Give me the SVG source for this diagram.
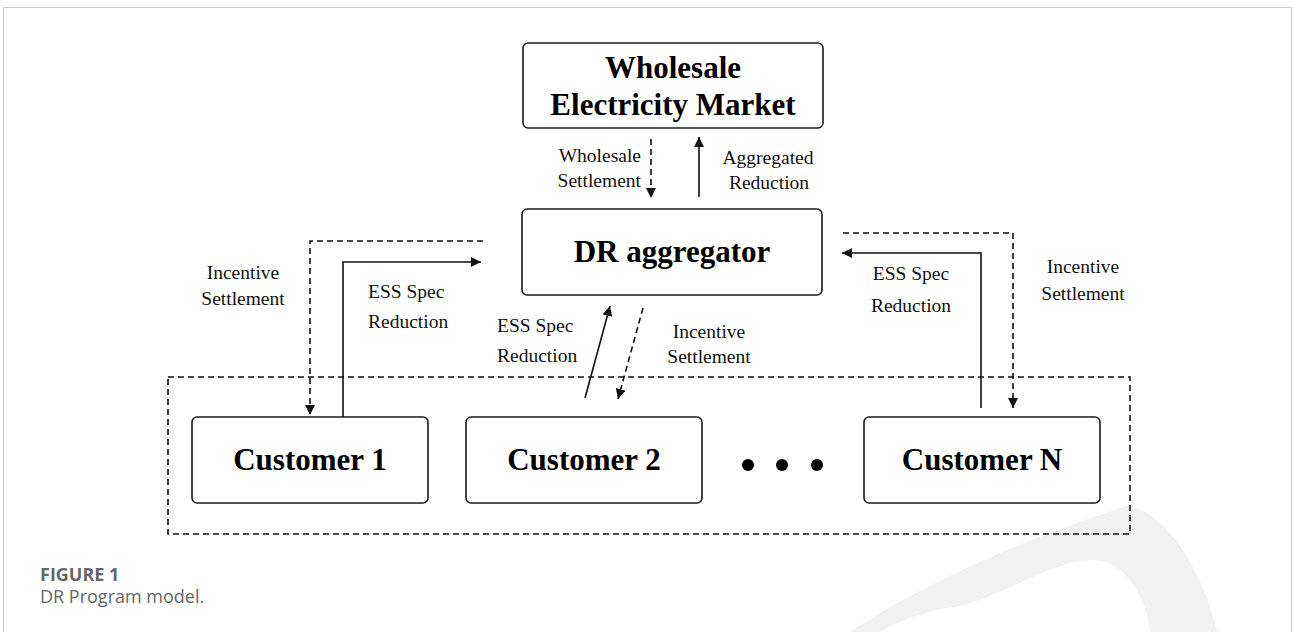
<svg xmlns="http://www.w3.org/2000/svg" width="1293" height="632" viewBox="0 0 1293 632">
  <style>
    .box { fill: #ffffff; stroke: #1a1a1a; stroke-width: 1.6; }
    .title { font-family: "Liberation Serif", "Times New Roman", serif; font-weight: bold; font-size: 31px; fill: #000; text-anchor: middle; }
    .lbl { font-family: "Liberation Serif", "Times New Roman", serif; font-size: 19.5px; fill: #111; }
    .solid { fill: none; stroke: #111; stroke-width: 1.6; }
    .dash { fill: none; stroke: #111; stroke-width: 1.6; stroke-dasharray: 6 4; }
    .cap { font-family: "Open Sans", "Liberation Sans", sans-serif; fill: #666; }
  </style>
  <defs>
    <marker id="arr" markerUnits="userSpaceOnUse" markerWidth="12" markerHeight="10" refX="10" refY="5" orient="auto">
      <path d="M0,0 L10,5 L0,10 Z" fill="#111"/>
    </marker>
  </defs>

  <rect x="0" y="0" width="1293" height="632" fill="#ffffff"/>
  <!-- watermark -->
  <path d="M 850,632 C 920,585 1020,540 1130,505 C 1175,520 1205,580 1217,632 L 1150,632 C 1148,600 1125,560 1093,560 C 1050,560 1000,600 953,607 C 930,610 900,620 880,632 Z" fill="#f1f1f1"/>
  <!-- frame -->
  <path d="M 3.5,632 L 3.5,7.5 L 1291.5,7.5 L 1291.5,632" fill="none" stroke="#cccccc" stroke-width="1.2"/>

  <!-- customer group -->
  <rect id="customer-group" x="168" y="377" width="962" height="157" class="dash"/>

  <g id="wholesale-market">
    <rect x="523" y="43" width="300" height="85" rx="5" class="box"/>
    <text x="673" y="78" class="title">Wholesale</text>
    <text x="673" y="115" class="title">Electricity Market</text>
  </g>

  <g id="dr-aggregator">
    <rect x="522" y="209" width="300" height="86" rx="5" class="box"/>
    <text x="672" y="262" class="title">DR aggregator</text>
  </g>

  <g id="customer-1">
    <rect x="192" y="417" width="236" height="86" rx="5" class="box"/>
    <text x="310" y="470" class="title">Customer 1</text>
  </g>
  <g id="customer-2">
    <rect x="466" y="417" width="236" height="86" rx="5" class="box"/>
    <text x="584" y="470" class="title">Customer 2</text>
  </g>
  <g id="customer-n">
    <rect x="864" y="417" width="236" height="86" rx="5" class="box"/>
    <text x="982" y="470" class="title">Customer N</text>
  </g>

  <g id="ellipsis" fill="#000">
    <circle cx="748" cy="465" r="6"/>
    <circle cx="782" cy="465" r="6"/>
    <circle cx="817" cy="465" r="6"/>
  </g>

  <g id="connectors">
    <line x1="651" y1="139" x2="651" y2="198" class="dash" marker-end="url(#arr)"/>
    <line x1="699" y1="197" x2="699" y2="137" class="solid" marker-end="url(#arr)"/>
    <polyline points="483,241 310,241 310,415" class="dash" marker-end="url(#arr)"/>
    <polyline points="343,417 343,262 481,262" class="solid" marker-end="url(#arr)"/>
    <line x1="585" y1="398" x2="610" y2="306" class="solid" marker-end="url(#arr)"/>
    <line x1="643" y1="308" x2="618" y2="399" class="dash" marker-end="url(#arr)"/>
    <polyline points="843,233 1013,233 1013,408" class="dash" marker-end="url(#arr)"/>
    <polyline points="981,408 981,253 842,253" class="solid" marker-end="url(#arr)"/>
  </g>

  <g id="labels">
    <text x="641" y="162" class="lbl" text-anchor="end">Wholesale</text>
    <text x="641" y="187" class="lbl" text-anchor="end">Settlement</text>
    <text x="768" y="164" class="lbl" text-anchor="middle">Aggregated</text>
    <text x="769" y="189" class="lbl" text-anchor="middle">Reduction</text>

    <text x="243" y="279" class="lbl" text-anchor="middle">Incentive</text>
    <text x="243" y="305" class="lbl" text-anchor="middle">Settlement</text>
    <text x="368" y="298" class="lbl">ESS Spec</text>
    <text x="368" y="328" class="lbl">Reduction</text>

    <text x="497" y="332" class="lbl">ESS Spec</text>
    <text x="497" y="362" class="lbl">Reduction</text>
    <text x="709" y="338" class="lbl" text-anchor="middle">Incentive</text>
    <text x="709" y="363" class="lbl" text-anchor="middle">Settlement</text>

    <text x="911" y="280" class="lbl" text-anchor="middle">ESS Spec</text>
    <text x="911" y="312" class="lbl" text-anchor="middle">Reduction</text>
    <text x="1083" y="273" class="lbl" text-anchor="middle">Incentive</text>
    <text x="1083" y="300" class="lbl" text-anchor="middle">Settlement</text>
  </g>

  <g id="caption">
    <text x="40" y="581" class="cap" font-size="18" font-weight="bold">FIGURE 1</text>
    <text x="40" y="603" class="cap" font-size="18">DR Program model.</text>
  </g>
</svg>
